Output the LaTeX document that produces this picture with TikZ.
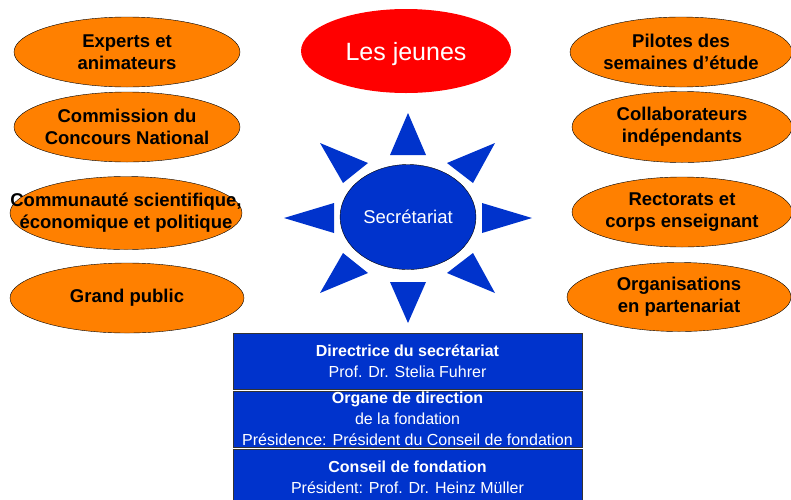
\documentclass[tikz,border=0pt]{standalone}
\usepackage{fontspec}
\setmainfont{Liberation Sans}
\usetikzlibrary{shapes.geometric}
\definecolor{groupfill}{HTML}{FF8000}
\definecolor{sunblue}{HTML}{0033CC}

\begin{document}
\begin{tikzpicture}[x=1pt,y=-1pt,
  group node/.style={ellipse,draw=black,fill=groupfill,minimum width=226pt,minimum height=70pt,inner xsep=-10pt,inner ysep=0pt,align=center,font=\fontsize{18.5}{22}\selectfont\bfseries},
  ray/.style={fill=sunblue},
  board box/.style={rectangle,draw=black!80,fill=sunblue,text=white,minimum width=349pt,minimum height=56pt,inner sep=0pt,align=center,font=\fontsize{16}{21}\selectfont}]

  \useasboundingbox (0,0) rectangle (791,499);

  % left side
  \node[group node] (experts) at (127,52) {Experts et\\animateurs};
  \node[group node] (commission) at (127,127) {Commission du\\Concours National};
  \node[group node, minimum width=232pt, minimum height=73pt, inner xsep=-40pt] (communaute) at (126,213) {Communauté scientifique,\\économique et politique};
  \node[group node, minimum width=234pt] (public) at (127,298) {Grand public};

  % right side
  \node[group node, minimum width=222pt] (pilotes) at (681,52) {Pilotes des\\semaines d’étude};
  \node[group node, minimum width=220pt, minimum height=71pt] (collab) at (682,127) {Collaborateurs\\indépendants};
  \node[group node, minimum width=220pt] (rectorats) at (682,212) {Rectorats et\\corps enseignant};
  \node[group node, minimum width=224pt, minimum height=69pt] (orgs) at (679,297) {Organisations\\en partenariat};

  % top
  \node[ellipse,fill=red,minimum width=210pt,minimum height=84pt,text=white,text height=19pt,text depth=0pt,font=\fontsize{25}{30}\selectfont] (jeunes) at (406,51) {Les jeunes};

  % sun
  \node[ellipse,draw=black,fill=sunblue,minimum width=123pt,minimum height=105pt,text=white,font=\fontsize{18.5}{22}\selectfont] (secretariat) at (408,217) {Secrétariat};
  \fill[ray] (390,155) -- (408,113) -- (426,155) -- cycle;
  \fill[ray] (390,282) -- (408,323) -- (426,282) -- cycle;
  \fill[ray] (334,203) -- (284,218) -- (334,233) -- cycle;
  \fill[ray] (482,203) -- (532,218) -- (482,233) -- cycle;
  \fill[ray] (320,143) -- (368,163) -- (343,183) -- cycle;
  \fill[ray] (495,143) -- (447,163) -- (473,183) -- cycle;
  \fill[ray] (320,293) -- (343,253) -- (368,273) -- cycle;
  \fill[ray] (495,293) -- (473,253) -- (447,273) -- cycle;

  % boxes
  \node[board box] (directrice) at (407.5,361) {\textbf{Directrice du secrétariat}\\Prof. Dr. Stelia Fuhrer};
  \node[board box] (organe) at (407.5,419) {\textbf{Organe de direction}\\de la fondation\\Présidence: Président du Conseil de fondation};
  \node[board box] (conseil) at (407.5,477) {\textbf{Conseil de fondation}\\Président: Prof. Dr. Heinz Müller};

\end{tikzpicture}
\end{document}
